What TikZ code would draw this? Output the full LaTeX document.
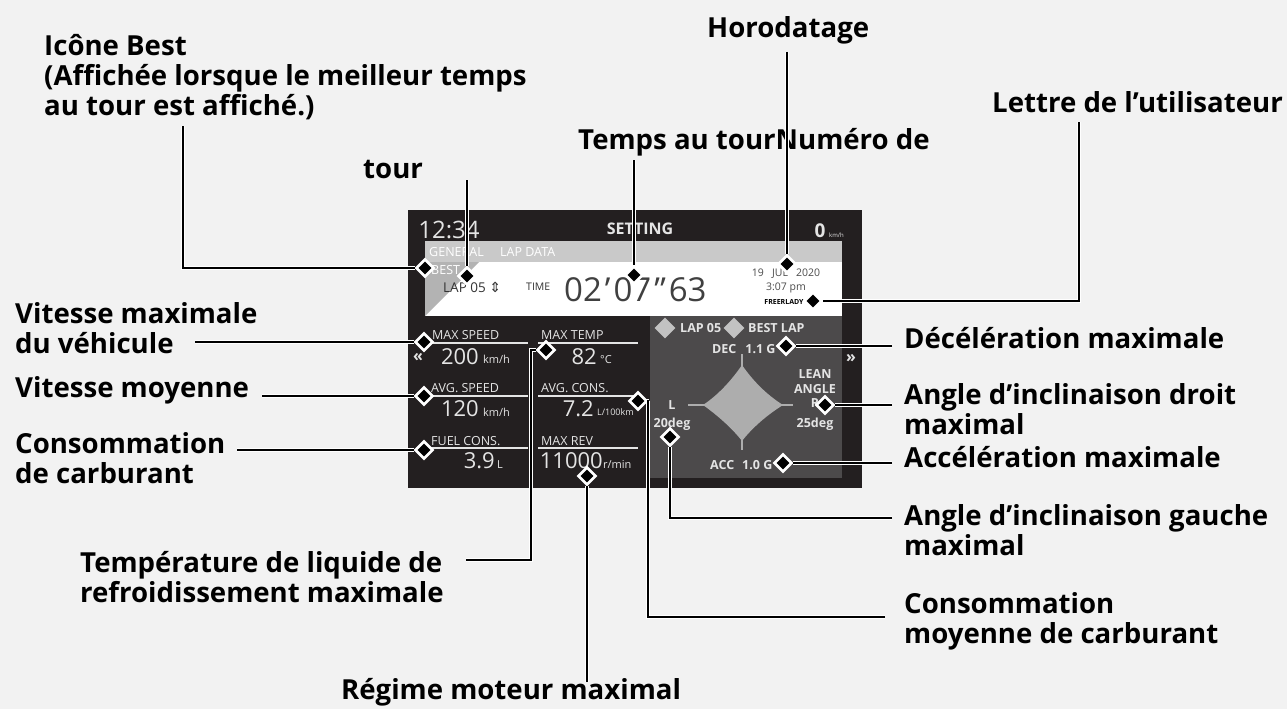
\documentclass[tikz,border=0pt]{standalone}
\usepackage{fontspec}
\setmainfont{Open Sans}
\newfontfamily\symfont{DejaVu Sans}
\usetikzlibrary{shapes.geometric}
\definecolor{pagegray}{HTML}{F2F2F2}
\definecolor{screenblack}{HTML}{231F20}
\definecolor{panelgray}{HTML}{4C4A4B}
\definecolor{bandgray}{HTML}{C9C9C9}
\definecolor{softwhite}{HTML}{E4E4E4}
\definecolor{stargray}{HTML}{ADADAD}
\tikzset{
  callout/.style={anchor=west,align=left,inner sep=0pt,font=\fontsize{27.6}{30}\selectfont\bfseries},
  pindot/.style={draw=white,fill=black,diamond,line width=2.6pt,minimum width=18pt,minimum height=18pt,inner sep=0pt},
  lead/.style={draw=black,line width=1.9pt,preaction={draw=white,line width=4.6pt}},
  tiny/.style={anchor=west,inner sep=0pt,text=softwhite,font=\fontsize{12.5}{14}\selectfont},
  panel/.style={anchor=west,inner sep=0pt,text=softwhite,font=\fontsize{12.5}{14}\selectfont\bfseries},
  big/.style={anchor=east,inner sep=0pt,text=softwhite,font=\fontsize{22}{24}\selectfont},
  unit/.style={anchor=west,inner sep=0pt,text=softwhite,font=\fontsize{11}{12}\selectfont},
  dark/.style={inner sep=0pt,text=black!80,font=\fontsize{13.5}{15}\selectfont},
  lapmark/.style={fill=softwhite!85!black,diamond,minimum width=21pt,minimum height=21pt,inner sep=0pt}
}
\begin{document}
\begin{tikzpicture}[x=1pt,y=-1pt]
\useasboundingbox (0,0) rectangle (1287,709);
\fill[pagegray] (0,0) rectangle (1287,709);

% screen
\fill[screenblack] (408,210) rectangle (862,488);
\fill[panelgray] (650,316) rectangle (842,478);
\fill[white] (425,241) rectangle (842,316);
\fill[bandgray] (425,241) rectangle (842,262);
\fill[bandgray!70!gray] (425,262) -- (479,262) -- (425,316) -- cycle;
\node[inner sep=0pt,text=softwhite,font=\fontsize{24}{26}\selectfont] (clock) at (449,230) {12:34};
\node[inner sep=0pt,text=softwhite,font=\fontsize{16}{17}\selectfont\bfseries] (title) at (640,229) {SETTING};
\node[inner sep=0pt,text=softwhite,font=\fontsize{19}{20}\selectfont\bfseries] (speed) at (820,231) {0};
\node[unit,font=\fontsize{6}{7}\selectfont] (speedunit) at (829,235) {km/h};
\node[tiny,text=white] (tabgeneral) at (429,252) {GENERAL};
\node[tiny,text=white] (tablap) at (500,252) {LAP DATA};
\node[tiny,text=white] (bestword) at (431,270) {BEST};

% lap time
\node[dark,anchor=west] (lapno) at (443,287) {LAP 05 {\symfont\fontsize{14}{15}\selectfont ⇕}};
\node[dark,anchor=west,font=\fontsize{10.5}{12}\selectfont] (timeword) at (526,287) {TIME};
\node[inner sep=0pt,anchor=west,text=black!75,font=\fontsize{33}{36}\selectfont] (laptime) at (564,290) {02\hspace{3pt}'\hspace{3pt}07\hspace{3pt}"\hspace{3pt}63};
\node[inner sep=0pt,text=black!70,align=center,font=\fontsize{10.5}{14}\selectfont] (datetime) at (786,281) {19\ \ \ JUL\ \ \ 2020\\3:07 pm};
\node[inner sep=0pt,text=black,font=\fontsize{7}{8}\selectfont\bfseries] (rider) at (784,302) {FREERLADY};

% left figures
\foreach \y in {343,396,448} {
  \draw[softwhite,line width=1.2pt] (424,\y) -- (528,\y);
  \draw[softwhite,line width=1.2pt] (538,\y) -- (638,\y);
}
\node[tiny] (maxspeed) at (432,335) {MAX SPEED};
\node[tiny] (avgspeed) at (431,388) {AVG. SPEED};
\node[tiny] (fuelcons) at (431,441) {FUEL CONS.};
\node[tiny] (maxtemp) at (541,335) {MAX TEMP};
\node[tiny] (avgcons) at (541,388) {AVG. CONS.};
\node[tiny] (maxrev) at (541,441) {MAX REV};
\node[big] (v200) at (479,357) {200};
\node[unit] (u200) at (483,359) {km/h};
\node[big] (v120) at (479,409) {120};
\node[unit] (u120) at (483,412) {km/h};
\node[big] (v39) at (495,461) {3.9};
\node[unit] (u39) at (497,465) {L};
\node[big] (v82) at (597,357) {82};
\node[unit] (u82) at (600,360) {°C};
\node[big] (v72) at (594,409) {7.2};
\node[unit,font=\fontsize{9}{10}\selectfont] (u72) at (597,412) {L/100km};
\node[big] (v11000) at (603,461) {11000};
\node[unit] (u11000) at (603,464) {r/min};
\node[inner sep=0pt,text=softwhite,font=\fontsize{16}{16}\selectfont\bfseries] (prevpage) at (418,357) {«};
\node[inner sep=0pt,text=softwhite,font=\fontsize{16}{16}\selectfont\bfseries] (nextpage) at (851,358) {»};

% right panel
\node[lapmark] (marklap) at (665,328) {};
\node[lapmark] (markbest) at (734,328) {};
\node[panel] (legendlap) at (680,328) {LAP 05};
\node[panel] (legendbest) at (748,328) {BEST LAP};
\draw[stargray,line width=1.5pt] (688,405) -- (793,405);
\draw[stargray,line width=1.5pt] (742,354) -- (742,450);
\fill[stargray] (703,405) .. controls (718,395) and (731,381) .. (742,365)
  .. controls (753,381) and (767,395) .. (783,405)
  .. controls (767,415) and (752,428) .. (742,441)
  .. controls (732,428) and (717,415) .. (703,405) -- cycle;
\node[panel] (dec) at (712,349) {DEC\hspace{9pt}1.1 G};
\node[panel] (acc) at (710,465) {ACC\hspace{8pt}1.0 G};
\node[inner sep=0pt,text=softwhite,align=center,font=\fontsize{12.5}{14}\selectfont\bfseries] (leanleft) at (672,416) {L\\[4pt]20deg};
\node[inner sep=0pt,text=softwhite,align=center,font=\fontsize{12.5}{14.5}\selectfont\bfseries] (leanright) at (815,400) {LEAN\\ANGLE\\R\\[5pt]25deg};

% pins
\node[pindot] (pbest) at (425,268) {};
\node[pindot] (plap) at (467,276) {};
\node[pindot] (ptime) at (634,275) {};
\node[pindot] (pdate) at (787,264) {};
\node[pindot] (puser) at (813,301) {};
\node[pindot] (pspeed) at (424,342) {};
\node[pindot] (pavg) at (424,396) {};
\node[pindot] (pfuel) at (424,450) {};
\node[pindot] (ptemp) at (546,350) {};
\node[pindot] (pcons) at (638,401) {};
\node[pindot] (prev) at (587,476) {};
\node[pindot] (pleft) at (670,437) {};
\node[pindot] (pdec) at (786,346) {};
\node[pindot] (pright) at (825,405) {};
\node[pindot] (pacc) at (783,463) {};

% labels
\node[callout] (lbest) at (44,77) {Icône Best\\(Affichée lorsque le meilleur temps\\au tour est affiché.)};
\node[callout] (llap) at (363,169) {tour};
\node[callout] (ltime) at (578,142) {Temps au tourNuméro de};
\node[callout] (ldate) at (707,30) {Horodatage};
\node[callout] (luser) at (992,102) {Lettre de l'utilisateur};
\node[callout] (lspeed) at (15,328) {Vitesse maximale\\du véhicule};
\node[callout] (lavg) at (15,390) {Vitesse moyenne};
\node[callout] (lfuel) at (15,458) {Consommation\\de carburant};
\node[callout] (ltemp) at (80,577) {Température de liquide de\\refroidissement maximale};
\node[callout] (lrev) at (341,692) {Régime moteur maximal};
\node[callout] (lcons) at (904,621) {Consommation\\moyenne de carburant};
\node[callout] (lleft) at (904,530) {Angle d'inclinaison gauche\\maximal};
\node[callout] (lacc) at (904,457) {Accélération maximale};
\node[callout] (lright) at (904,409) {Angle d'inclinaison droit\\maximal};
\node[callout] (ldec) at (904,338) {Décélération maximale};

% free ends of the leaders
\coordinate (ebest) at (183,126);
\coordinate (elap) at (467,180);
\coordinate (etime) at (634,160);
\coordinate (edate) at (787,52);
\coordinate (euser) at (1079,122);
\coordinate (espeed) at (195,342);
\coordinate (eavg) at (262,396);
\coordinate (efuel) at (237,450);
\coordinate (etemp) at (466,560);
\coordinate (econs) at (885,617);
\coordinate (erev) at (587,682);
\coordinate (eleft) at (892,518);
\coordinate (edec) at (892,346);
\coordinate (eright) at (892,405);
\coordinate (eacc) at (892,463);
\coordinate (btemp) at (531,560);
\coordinate (bcons) at (648,617);

\path[lead] (ebest) |- (pbest);
\path[lead] (elap) -- (plap);
\path[lead] (etime) -- (ptime);
\path[lead] (edate) -- (pdate);
\path[lead] (euser) |- (puser);
\path[lead] (espeed) -- (pspeed);
\path[lead] (eavg) -- (pavg);
\path[lead] (efuel) -- (pfuel);
\path[lead] (etemp) -- (btemp) |- (ptemp);
\path[lead] (econs) -- (bcons) |- (pcons);
\path[lead] (erev) -- (prev);
\path[lead] (eleft) -| (pleft);
\path[lead] (edec) -- (pdec);
\path[lead] (eright) -- (pright);
\path[lead] (eacc) -- (pacc);
\end{tikzpicture}
\end{document}
